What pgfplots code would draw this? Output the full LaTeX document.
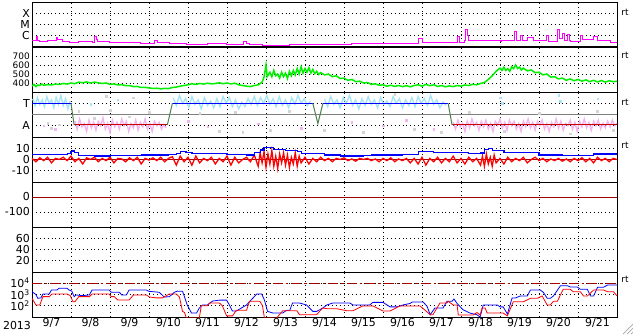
\documentclass[border=0pt]{standalone}
\usepackage{pgfplots}
\pgfplotsset{compat=1.18}
\usepackage{fontspec}
\setmainfont{DejaVu Sans}
\definecolor{mag}{HTML}{FF00FF}
\definecolor{grn}{HTML}{00F000}
\definecolor{bl}{HTML}{0000FF}
\definecolor{rd}{HTML}{FF0000}
\definecolor{dred}{HTML}{A00000}
\definecolor{lcyan}{HTML}{A8E4F8}
\definecolor{lpink}{HTML}{F4B4F0}
\definecolor{lgray}{HTML}{D4D4D4}
\definecolor{polg}{HTML}{4F8050}
\begin{document}
\fontsize{11}{13}\selectfont
\begin{tikzpicture}[x=1bp,y=1bp]
\useasboundingbox (-32,-17) rectangle (601,317);
\pgfplotsset{
 panel/.style={scale only axis, width=585bp, height=45bp, xmin=0, xmax=15,
  xtick={1,...,14}, xticklabels={}, grid=major,
  major grid style={black, line width=0.8pt, dash pattern=on 0.8bp off 3.1bp},
  axis line style={line width=1pt}, major tick length=0pt,
  yticklabel style={font=\fontsize{11}{13}\selectfont, inner sep=0pt, xshift=-2bp},
  anchor=south west},
}
% Panel 1: X-ray
\begin{axis}[panel, at={(0bp,270bp)}, ymin=-7, ymax=-3, ytick={-6,-5,-4}, yticklabels={C,M,X}]
\addplot[mag, line width=0.8pt, const plot] coordinates {
(0,-6.44)(0.05,-6.44)(0.10,-6.02)(0.13,-6.44)(0.18,-6.49)(0.36,-6.49)(0.39,-6.38)(0.57,-6.38)(0.62,-6.14)(0.64,-6.32)(0.75,-6.32)(0.77,-6.49)(0.95,-6.56)(1.2,-6.54)(1.54,-6.56)(1.59,-6.08)(1.65,-6.3)(1.67,-6.53)(1.98,-6.55)(2.01,-6.62)(2.4,-6.6)(2.75,-6.62)(2.78,-6.71)(3.08,-6.71)(3.14,-6.38)(3.21,-6.62)(3.52,-6.67)(3.96,-6.74)(4.5,-6.72)(4.99,-6.76)(5.40,-6.76)(5.42,-6.53)(5.50,-6.7)(5.58,-6.76)(5.91,-6.82)(6.6,-6.8)(7.30,-6.74)(8.2,-6.72)(9.0,-6.7)(9.87,-6.7)(9.90,-6.23)(10.0,-6.58)(10.39,-6.62)(10.87,-6.62)(10.90,-6.08)(10.95,-6.58)(11.08,-6.4)(11.11,-5.43)(11.16,-6.0)(11.18,-6.38)(11.49,-6.45)(12.0,-6.53)(12.03,-6.38)(12.34,-6.38)(12.36,-5.64)(12.42,-6.44)(12.52,-5.93)(12.57,-6.44)(12.70,-6.14)(12.85,-6.44)(13.16,-6.44)(13.19,-5.93)(13.24,-6.5)(13.47,-5.43)(13.52,-6.2)(13.60,-5.78)(13.65,-6.4)(13.73,-5.9)(13.78,-6.4)(13.80,-6.5)(14.06,-6.0)(14.11,-6.32)(14.32,-6.32)(14.40,-6.02)(14.50,-6.38)(14.83,-6.56)(15.0,-6.56)};
\end{axis}
% Panel 2: speed
\begin{axis}[panel, at={(0bp,225bp)}, ymin=300, ymax=800, ytick={400,500,600,700}, yticklabels={400,500,600,700},
 yticklabel style={font=\fontsize{9}{10}\selectfont}]
\addplot[grn, line width=1.5pt] coordinates {
(0.00,367)(0.05,385)(0.10,360)(0.15,378)(0.20,372)(0.25,388)(0.30,375)(0.40,382)(0.50,378)(0.60,388)(0.70,384)(0.80,395)(0.90,388)(1.00,400)(1.10,392)(1.20,410)(1.30,402)(1.40,412)(1.50,400)(1.60,410)(1.70,402)(1.80,395)(1.90,400)(2.00,385)(2.10,390)(2.20,378)(2.30,382)(2.40,370)(2.50,372)(2.60,360)(2.70,362)(2.80,350)(2.90,352)(3.00,345)(3.10,340)(3.20,342)(3.30,335)(3.40,340)(3.50,338)(3.60,350)(3.70,355)(3.80,365)(3.90,372)(4.00,380)(4.10,392)(4.20,384)(4.30,395)(4.40,388)(4.50,398)(4.60,390)(4.70,395)(4.80,402)(4.90,392)(5.00,400)(5.10,390)(5.20,398)(5.30,380)(5.40,372)(5.50,365)(5.60,360)(5.70,372)(5.80,380)(5.90,410)(5.95,467)(6.00,600)(6.03,470)(6.10,520)(6.15,470)(6.20,540)(6.25,480)(6.30,500)(6.35,455)(6.40,520)(6.45,470)(6.50,510)(6.55,450)(6.60,530)(6.65,480)(6.70,540)(6.75,490)(6.80,560)(6.85,500)(6.90,580)(6.95,510)(7.00,560)(7.05,520)(7.10,570)(7.15,510)(7.20,550)(7.25,505)(7.30,530)(7.35,495)(7.40,515)(7.50,490)(7.60,500)(7.70,470)(7.80,480)(7.90,450)(8.00,455)(8.10,430)(8.20,440)(8.30,415)(8.40,420)(8.50,400)(8.60,405)(8.70,385)(8.80,390)(8.90,375)(9.00,380)(9.10,365)(9.20,375)(9.30,362)(9.40,372)(9.50,360)(9.60,370)(9.70,358)(9.80,372)(9.90,380)(10.0,365)(10.1,385)(10.2,370)(10.3,380)(10.4,362)(10.5,372)(10.6,358)(10.7,368)(10.8,360)(10.9,372)(11.0,365)(11.1,378)(11.2,372)(11.3,385)(11.4,380)(11.5,395)(11.6,405)(11.7,440)(11.8,480)(11.9,530)(12.0,565)(12.05,540)(12.1,575)(12.15,540)(12.2,560)(12.25,530)(12.3,580)(12.35,560)(12.4,600)(12.45,560)(12.5,575)(12.55,545)(12.6,565)(12.7,535)(12.8,545)(12.9,515)(13.0,520)(13.1,490)(13.2,500)(13.3,465)(13.4,470)(13.5,445)(13.6,455)(13.7,430)(13.8,445)(13.9,425)(14.0,440)(14.1,420)(14.2,435)(14.3,415)(14.4,430)(14.5,412)(14.6,428)(14.7,410)(14.8,425)(14.9,415)(15.0,420)};
\end{axis}
% Panel 3: polarity
\begin{axis}[panel, at={(0bp,180bp)}, ymin=-2, ymax=2, ytick={-1,1}, yticklabels={A,T}]
\addplot[lgray, only marks, mark=square*, mark size=0.9pt] coordinates {(0.4,-0.8)(0.5,-1.2)(0.7,-0.9)(1.2,0.3)(1.6,-0.3)(2.0,0.4)(2.5,-0.2)(3.0,0.2)(4.3,0.1)(5.2,0.2)(5.4,-1.6)(6.1,-1.4)(6.6,0.3)(7.5,-1.4)(8.5,-1.6)(9.3,1.8)(10.5,-1.6)(11.2,0.2)(12.1,-1.5)(13.0,0.1)(13.8,-1.7)(14.5,0.3)(14.9,-1.4)(4.8,-1.5)(9.8,-1.3)(1.9,1.6)(2.6,1.5)};
\addplot[lpink, only marks, mark=square*, mark size=0.8pt] coordinates {(0.3,-1.0)(0.6,-1.3)(4.0,-0.6)(4.5,-1.1)(5.8,-0.8)(6.9,-1.2)(8.2,-0.7)(9.0,-1.0)(9.6,-0.5)(10.3,-1.3)};
\addplot[lcyan, only marks, mark=square*, mark size=0.8pt] coordinates {(12.0,1.5)(12.05,1.0)(13.5,1.7)(13.55,1.2)(14.5,1.4)(2.2,1.3)(1.5,0.9)};
\addplot[lcyan, line width=1.4pt] coordinates {(0.02,1.4)(0.08,0.8)(0.14,1.5)(0.2,0.9)(0.26,1.3)(0.32,0.7)(0.38,1.6)(0.44,1.0)(0.5,1.3)(0.56,0.6)(0.62,1.5)(0.68,0.9)(0.74,1.7)(0.8,0.8)(0.86,1.4)(0.92,0.5)(0.98,1.2)};
\addplot[lcyan, line width=1.4pt] coordinates {(3.62,1.5)(3.7,0.8)(3.78,1.7)(3.86,1.0)(3.94,1.4)(4.02,0.6)(4.1,1.6)(4.18,0.9)(4.26,1.3)(4.34,0.5)(4.42,1.5)(4.5,0.8)(4.58,1.2)(4.66,0.6)(4.74,1.4)(4.82,0.7)(4.9,1.6)(4.98,1.0)(5.06,1.5)(5.14,0.7)(5.22,1.3)(5.3,0.5)(5.38,1.1)(5.46,0.7)(5.54,1.4)(5.62,0.9)(5.7,1.6)(5.78,0.8)(5.86,1.5)(5.94,1.0)(6.02,1.7)(6.1,0.9)(6.18,1.4)(6.26,0.7)(6.34,1.6)(6.42,0.8)(6.5,1.3)(6.58,0.6)(6.66,1.5)(6.74,0.9)(6.82,1.7)(6.9,1.0)(6.98,1.4)(7.06,0.8)(7.14,1.2)};
\addplot[lcyan, line width=1.4pt] coordinates {(7.5,1.4)(7.58,0.7)(7.66,1.6)(7.74,0.9)(7.82,1.3)(7.9,0.6)(7.98,1.5)(8.06,1.0)(8.14,1.7)(8.22,0.8)(8.3,1.3)(8.38,0.5)(8.46,1.4)(8.54,0.8)(8.62,1.6)(8.7,0.9)(8.78,1.3)(8.86,0.6)(8.94,1.5)(9.02,0.9)(9.1,1.2)(9.18,0.7)(9.26,1.6)(9.34,1.0)(9.42,1.4)(9.5,0.6)(9.58,1.3)(9.66,0.8)(9.74,1.5)(9.82,0.7)(9.9,1.6)(9.98,1.0)(10.06,1.4)(10.14,0.8)(10.22,1.7)(10.3,0.9)(10.38,1.3)(10.46,0.6)(10.54,1.1)(10.62,0.8)};
\addplot[lpink, line width=1.4pt] coordinates {(1.1,-0.6)(1.16,-1.3)(1.22,-0.4)(1.28,-1.1)(1.34,-0.8)(1.4,-1.5)(1.46,-0.5)(1.52,-1.2)(1.58,-0.7)(1.64,-1.4)(1.7,-0.6)(1.76,-1.0)(1.82,-0.3)(1.88,-1.3)(1.94,-0.8)(2.0,-1.6)(2.06,-0.5)(2.12,-1.1)(2.18,-0.7)(2.24,-1.3)(2.3,-0.4)(2.36,-1.0)(2.42,-0.6)(2.48,-1.5)(2.54,-0.8)(2.6,-1.2)(2.66,-0.5)(2.72,-1.4)(2.78,-0.7)(2.84,-1.1)(2.9,-0.4)(2.96,-1.3)(3.02,-0.8)(3.08,-1.5)(3.14,-0.6)(3.2,-1.0)(3.26,-0.7)(3.32,-1.3)(3.38,-0.9)(3.44,-1.2)};
\addplot[lpink, line width=1.4pt] coordinates {(10.8,-0.7)(10.86,-1.3)(10.92,-0.5)(10.98,-1.1)(11.04,-0.8)(11.1,-1.5)(11.16,-0.6)(11.22,-1.2)(11.28,-0.4)(11.34,-1.0)(11.4,-0.7)(11.46,-1.4)(11.52,-0.6)(11.58,-1.1)(11.64,-0.5)(11.7,-1.3)(11.76,-0.8)(11.82,-1.5)(11.88,-0.6)(11.94,-1.0)(12.0,-0.4)(12.06,-1.2)(12.12,-0.7)(12.18,-1.4)(12.24,-0.5)(12.3,-1.0)(12.36,-0.6)(12.42,-1.3)(12.48,-0.8)(12.54,-1.5)(12.6,-0.6)(12.66,-1.1)(12.72,-0.4)(12.78,-1.2)(12.84,-0.7)(12.9,-1.4)(12.96,-0.6)(13.02,-1.0)(13.08,-0.5)(13.14,-1.3)(13.2,-0.8)(13.26,-1.5)(13.32,-0.7)(13.38,-1.1)(13.44,-0.4)(13.5,-1.2)(13.56,-0.6)(13.62,-1.4)(13.68,-0.8)(13.74,-1.0)(13.8,-0.5)(13.86,-1.3)(13.92,-0.7)(13.98,-1.5)(14.04,-0.6)(14.1,-1.1)(14.16,-0.4)(14.22,-1.2)(14.28,-0.7)(14.34,-1.4)(14.4,-0.6)(14.46,-1.0)(14.52,-0.5)(14.58,-1.3)(14.64,-0.8)(14.7,-1.2)(14.76,-0.6)(14.82,-1.1)(14.88,-0.5)(14.94,-1.0)(15.0,-0.8)};
\addplot[gray, line width=1pt] coordinates {(0,0)(15,0)};
\addplot[bl, line width=1pt] coordinates {(0,1)(1.0,1)};
\addplot[bl, line width=1pt] coordinates {(3.6,1)(7.2,1)};
\addplot[bl, line width=1pt] coordinates {(7.46,1)(10.67,1)};
\addplot[rd!80!black, line width=1pt] coordinates {(1.08,-0.93)(3.47,-0.93)};
\addplot[rd!80!black, line width=1pt] coordinates {(10.77,-0.93)(15,-0.93)};
\addplot[polg, line width=1pt] coordinates {(1.0,1)(1.08,-0.93)};
\addplot[polg, line width=1pt] coordinates {(3.47,-0.93)(3.6,1)};
\addplot[polg, line width=1pt] coordinates {(7.2,1)(7.33,-0.8)(7.46,1)};
\addplot[polg, line width=1pt] coordinates {(10.67,1)(10.77,-0.93)};
\end{axis}
% Panel 4: IMF
\begin{axis}[panel, at={(0bp,135bp)}, ymin=-20, ymax=20, ytick={-10,0,10}, yticklabels={-10,0,10}]
\addplot[dred, line width=0.6pt] coordinates {(0,0)(15,0)};
\addplot[rd, line width=1.3pt] coordinates {
(0.0,1)(0.1,-2)(0.2,1.5)(0.3,-1)(0.4,2)(0.5,-3)(0.6,1)(0.7,0)(0.8,2)(0.9,-1)(1.0,3)(1.1,-2)(1.2,1)(1.3,-4)(1.4,1.5)(1.5,0)(1.6,2)(1.7,-2)(1.8,1)(1.9,-1)(2.0,2)(2.1,-3)(2.2,1)(2.3,0.5)(2.4,-2)(2.5,1.5)(2.6,-1)(2.7,2)(2.8,-4)(2.9,1)(3.0,-0.5)(3.1,1.5)(3.2,-1)(3.3,2)(3.4,-2)(3.5,1)(3.6,2.5)(3.7,-5)(3.8,3)(3.9,-2)(4.0,2)(4.1,-5)(4.2,3)(4.3,-3)(4.4,1)(4.5,-1)(4.6,2)(4.7,-4)(4.8,1)(4.9,-2)(5.0,3)(5.1,-5)(5.2,2)(5.3,-3)(5.4,0)(5.5,2)(5.6,-2)(5.7,4)(5.8,-6)(5.85,6)(5.9,-3)(5.95,7)(6.0,-7)(6.05,5)(6.1,-4)(6.15,8)(6.2,-6)(6.25,3)(6.3,-8)(6.35,5)(6.4,-3)(6.45,6)(6.5,-5)(6.55,4)(6.6,-7)(6.65,2)(6.7,-4)(6.75,6)(6.8,-6)(6.85,3)(6.9,-3)(7.0,2)(7.1,-4)(7.2,1)(7.3,-2)(7.4,2)(7.5,-1)(7.6,1)(7.7,-2)(7.8,1)(7.9,0)(8.0,1.5)(8.1,-1)(8.2,0.5)(8.3,-1.5)(8.4,1)(8.5,0)(8.6,1)(8.7,-1)(8.8,0.5)(8.9,-2)(9.0,1)(9.1,-1)(9.2,1.5)(9.3,-2)(9.4,0.5)(9.5,-1)(9.6,1)(9.7,-3)(9.8,1)(9.9,-4)(10.0,2)(10.1,-5)(10.2,1)(10.3,-2)(10.4,2)(10.5,-3)(10.6,1)(10.7,-2)(10.8,3)(10.9,-3)(11.0,1)(11.1,-4)(11.2,2)(11.3,-2)(11.4,1)(11.5,-5)(11.55,3)(11.6,-6)(11.65,5)(11.7,-4)(11.75,2)(11.8,-6)(11.85,4)(11.9,-3)(12.0,1)(12.1,-4)(12.2,2)(12.3,-2)(12.4,1)(12.5,-1)(12.6,2)(12.7,-3)(12.8,0)(12.9,2)(13.0,-1)(13.1,1)(13.2,-2)(13.3,0.5)(13.4,-1)(13.5,1)(13.6,-1.5)(13.7,0.5)(13.8,-2)(13.9,1)(14.0,-1)(14.1,1.5)(14.2,-2)(14.3,1)(14.4,-3)(14.5,2)(14.6,-1)(14.7,1)(14.8,-2)(14.9,1)(15.0,0)};
\addplot[bl, line width=1.2pt, const plot] coordinates {
(0,4.6)(0.5,4.2)(0.9,5)(1.0,7)(1.05,8)(1.1,6.5)(1.2,3.5)(1.6,3.1)(2.0,3.3)(2.5,3.5)(2.8,4)(3.0,4)(3.5,4.3)(3.7,5)(3.8,7)(3.95,6.5)(4.1,5.5)(4.5,5)(5.0,4.5)(5.5,4)(5.7,6)(5.85,8.4)(5.95,10.8)(6.1,10.5)(6.2,9)(6.5,8)(6.8,7)(6.9,5.5)(7.2,5)(7.5,4)(7.9,3.1)(8.5,3.3)(8.7,4)(9.5,4.2)(9.9,7)(10.2,7)(10.3,6)(10.9,6.2)(11.2,5.5)(11.5,5.8)(11.6,9)(11.7,9.5)(11.8,7.8)(12.1,6)(12.9,6)(13.0,4)(13.6,3.4)(14.3,3.4)(14.4,4.9)(15,4.9)};
\end{axis}
% Panel 5
\begin{axis}[panel, at={(0bp,90bp)}, ymin=-200, ymax=100, ytick={-100,0}, yticklabels={-100,0}]
\addplot[dred, line width=1pt] coordinates {(0,0)(15,0)};
\end{axis}
% Panel 6
\begin{axis}[panel, at={(0bp,45bp)}, ymin=0, ymax=80, ytick={20,40,60}, yticklabels={20,40,60}]
\addplot[draw=none] coordinates {(0,0)(15,0)};
\end{axis}
% Panel 7: electrons
\begin{axis}[panel, at={(0bp,0bp)}, ymin=1, ymax=5, ytick={2,3,4}, yticklabels={10\textsuperscript{2},10\textsuperscript{3},10\textsuperscript{4}},
 extra x ticks={0.5,1.5,...,14.5}, extra x tick labels={9/7,9/8,9/9,9/10,9/11,9/12,9/13,9/14,9/15,9/16,9/17,9/18,9/19,9/20,9/21},
 extra x tick style={grid=none, major tick length=0pt, tick label style={font=\fontsize{11}{13}\selectfont, inner sep=1pt}}]
\addplot[dred, line width=1pt, dash pattern=on 10bp off 3bp on 2.5bp off 3bp] coordinates {(0,4)(15,4)};
\addplot[bl, line width=0.8pt] coordinates {
(0,3.25)(0.1,3.0)(0.15,2.66)(0.23,2.7)(0.28,3.04)(0.44,3.04)(0.5,3.4)(0.64,3.4)(0.69,3.55)(0.9,3.55)(0.95,3.4)(1.02,3.3)(1.08,2.81)(1.13,2.96)(1.3,2.9)(1.47,2.96)(1.54,3.4)(1.98,3.4)(2.03,3.2)(2.24,3.2)(2.3,2.96)(2.42,2.96)(2.49,3.4)(2.93,3.4)(3.0,3.28)(3.26,3.2)(3.39,2.78)(3.52,2.8)(3.65,3.2)(3.73,3.3)(3.86,3.28)(3.91,2.8)(3.98,2.07)(4.09,1.35)(4.22,1.35)(4.29,1.8)(4.37,2.07)(4.50,2.07)(4.63,2.42)(4.81,2.5)(4.99,2.5)(5.06,2.07)(5.14,1.53)(5.24,1.53)(5.32,1.7)(5.50,2.07)(5.76,3.04)(5.89,3.04)(5.96,2.5)(6.04,1.5)(6.17,1.36)(6.43,1.36)(6.53,1.6)(6.61,1.6)(6.68,2.24)(6.86,2.24)(7.04,2.07)(7.20,1.5)(7.30,1.5)(7.46,1.8)(7.56,2.07)(7.71,2.24)(8.15,2.24)(8.23,2.07)(8.66,2.07)(8.74,2.3)(9.0,2.3)(9.18,1.9)(9.36,1.9)(9.51,2.07)(9.69,2.2)(9.75,2.33)(10.03,2.33)(10.13,1.95)(10.21,1.2)(10.33,1.8)(10.54,1.8)(10.64,2.4)(10.77,2.4)(10.82,2.6)(10.90,2.2)(11.05,1.65)(11.23,1.35)(11.41,1.2)(11.49,1.0)(11.57,2.07)(11.93,2.07)(12.0,1.9)(12.08,1.9)(12.19,1.27)(12.31,2.69)(12.39,2.69)(12.52,2.87)(12.70,2.87)(12.78,3.4)(13.03,3.4)(13.11,3.2)(13.21,2.66)(13.29,2.66)(13.37,2.87)(13.55,3.78)(13.73,3.78)(13.80,3.67)(13.98,3.67)(14.06,3.46)(14.24,3.46)(14.32,2.87)(14.40,2.87)(14.50,3.64)(14.65,3.64)(14.76,3.84)(15.0,3.84)};
\addplot[rd, line width=0.8pt] coordinates {
(0,2.66)(0.1,2.07)(0.2,2.07)(0.28,2.81)(0.44,2.81)(0.51,3.04)(0.9,3.04)(0.98,2.9)(1.05,2.36)(1.1,2.36)(1.2,2.81)(1.47,2.81)(1.54,3.04)(1.98,3.04)(2.03,2.81)(2.11,2.81)(2.2,2.51)(2.49,2.51)(2.6,2.96)(2.93,2.96)(3.01,2.78)(3.19,2.7)(3.34,2.7)(3.52,3.04)(3.70,3.04)(3.78,2.78)(3.86,1.5)(3.91,1.4)(3.96,0.9)(4.29,0.9)(4.34,2.0)(4.50,2.0)(4.55,2.24)(4.81,2.24)(4.88,2.0)(4.99,1.1)(5.14,1.1)(5.24,1.6)(5.50,1.6)(5.58,2.4)(5.84,2.4)(5.91,2.0)(5.96,0.9)(6.27,0.9)(6.43,1.56)(6.79,1.56)(6.86,1.2)(7.30,1.2)(7.38,1.53)(7.46,1.8)(7.56,1.74)(7.81,1.74)(8.07,1.56)(8.23,1.56)(8.48,1.98)(8.74,1.98)(9.0,1.53)(9.18,1.53)(9.43,1.98)(9.95,1.98)(10.08,1.6)(10.21,1.2)(10.28,1.2)(10.46,2.24)(10.64,2.24)(10.67,2.4)(10.80,2.07)(10.90,2.07)(10.93,1.18)(11.31,1.18)(11.41,1.4)(11.49,1.18)(11.54,1.8)(11.62,1.8)(11.67,1.35)(12.08,1.35)(12.19,1.1)(12.34,2.36)(12.60,2.36)(12.78,2.66)(12.96,2.66)(13.08,2.87)(13.21,2.07)(13.29,2.07)(13.37,2.4)(13.47,2.4)(13.62,3.46)(13.80,3.46)(13.88,3.25)(14.06,3.25)(14.14,2.87)(14.24,2.87)(14.40,3.4)(14.65,3.4)(14.76,3.25)(14.91,3.25)(15.0,2.87)};
\end{axis}
\node[font=\fontsize{11}{13}\selectfont, inner sep=0pt] at (-15,-9) {2013};
\foreach \yy in {305,262,215,172,38} {\node[font=\fontsize{9}{10}\selectfont, inner sep=0pt] at (593,\yy) {rt};}
\draw[gray!70, line width=0.7pt] (601,-7) -- (591,-17) (601,-11) -- (595,-17) (601,-15) -- (599,-17);
\end{tikzpicture}
\end{document}
